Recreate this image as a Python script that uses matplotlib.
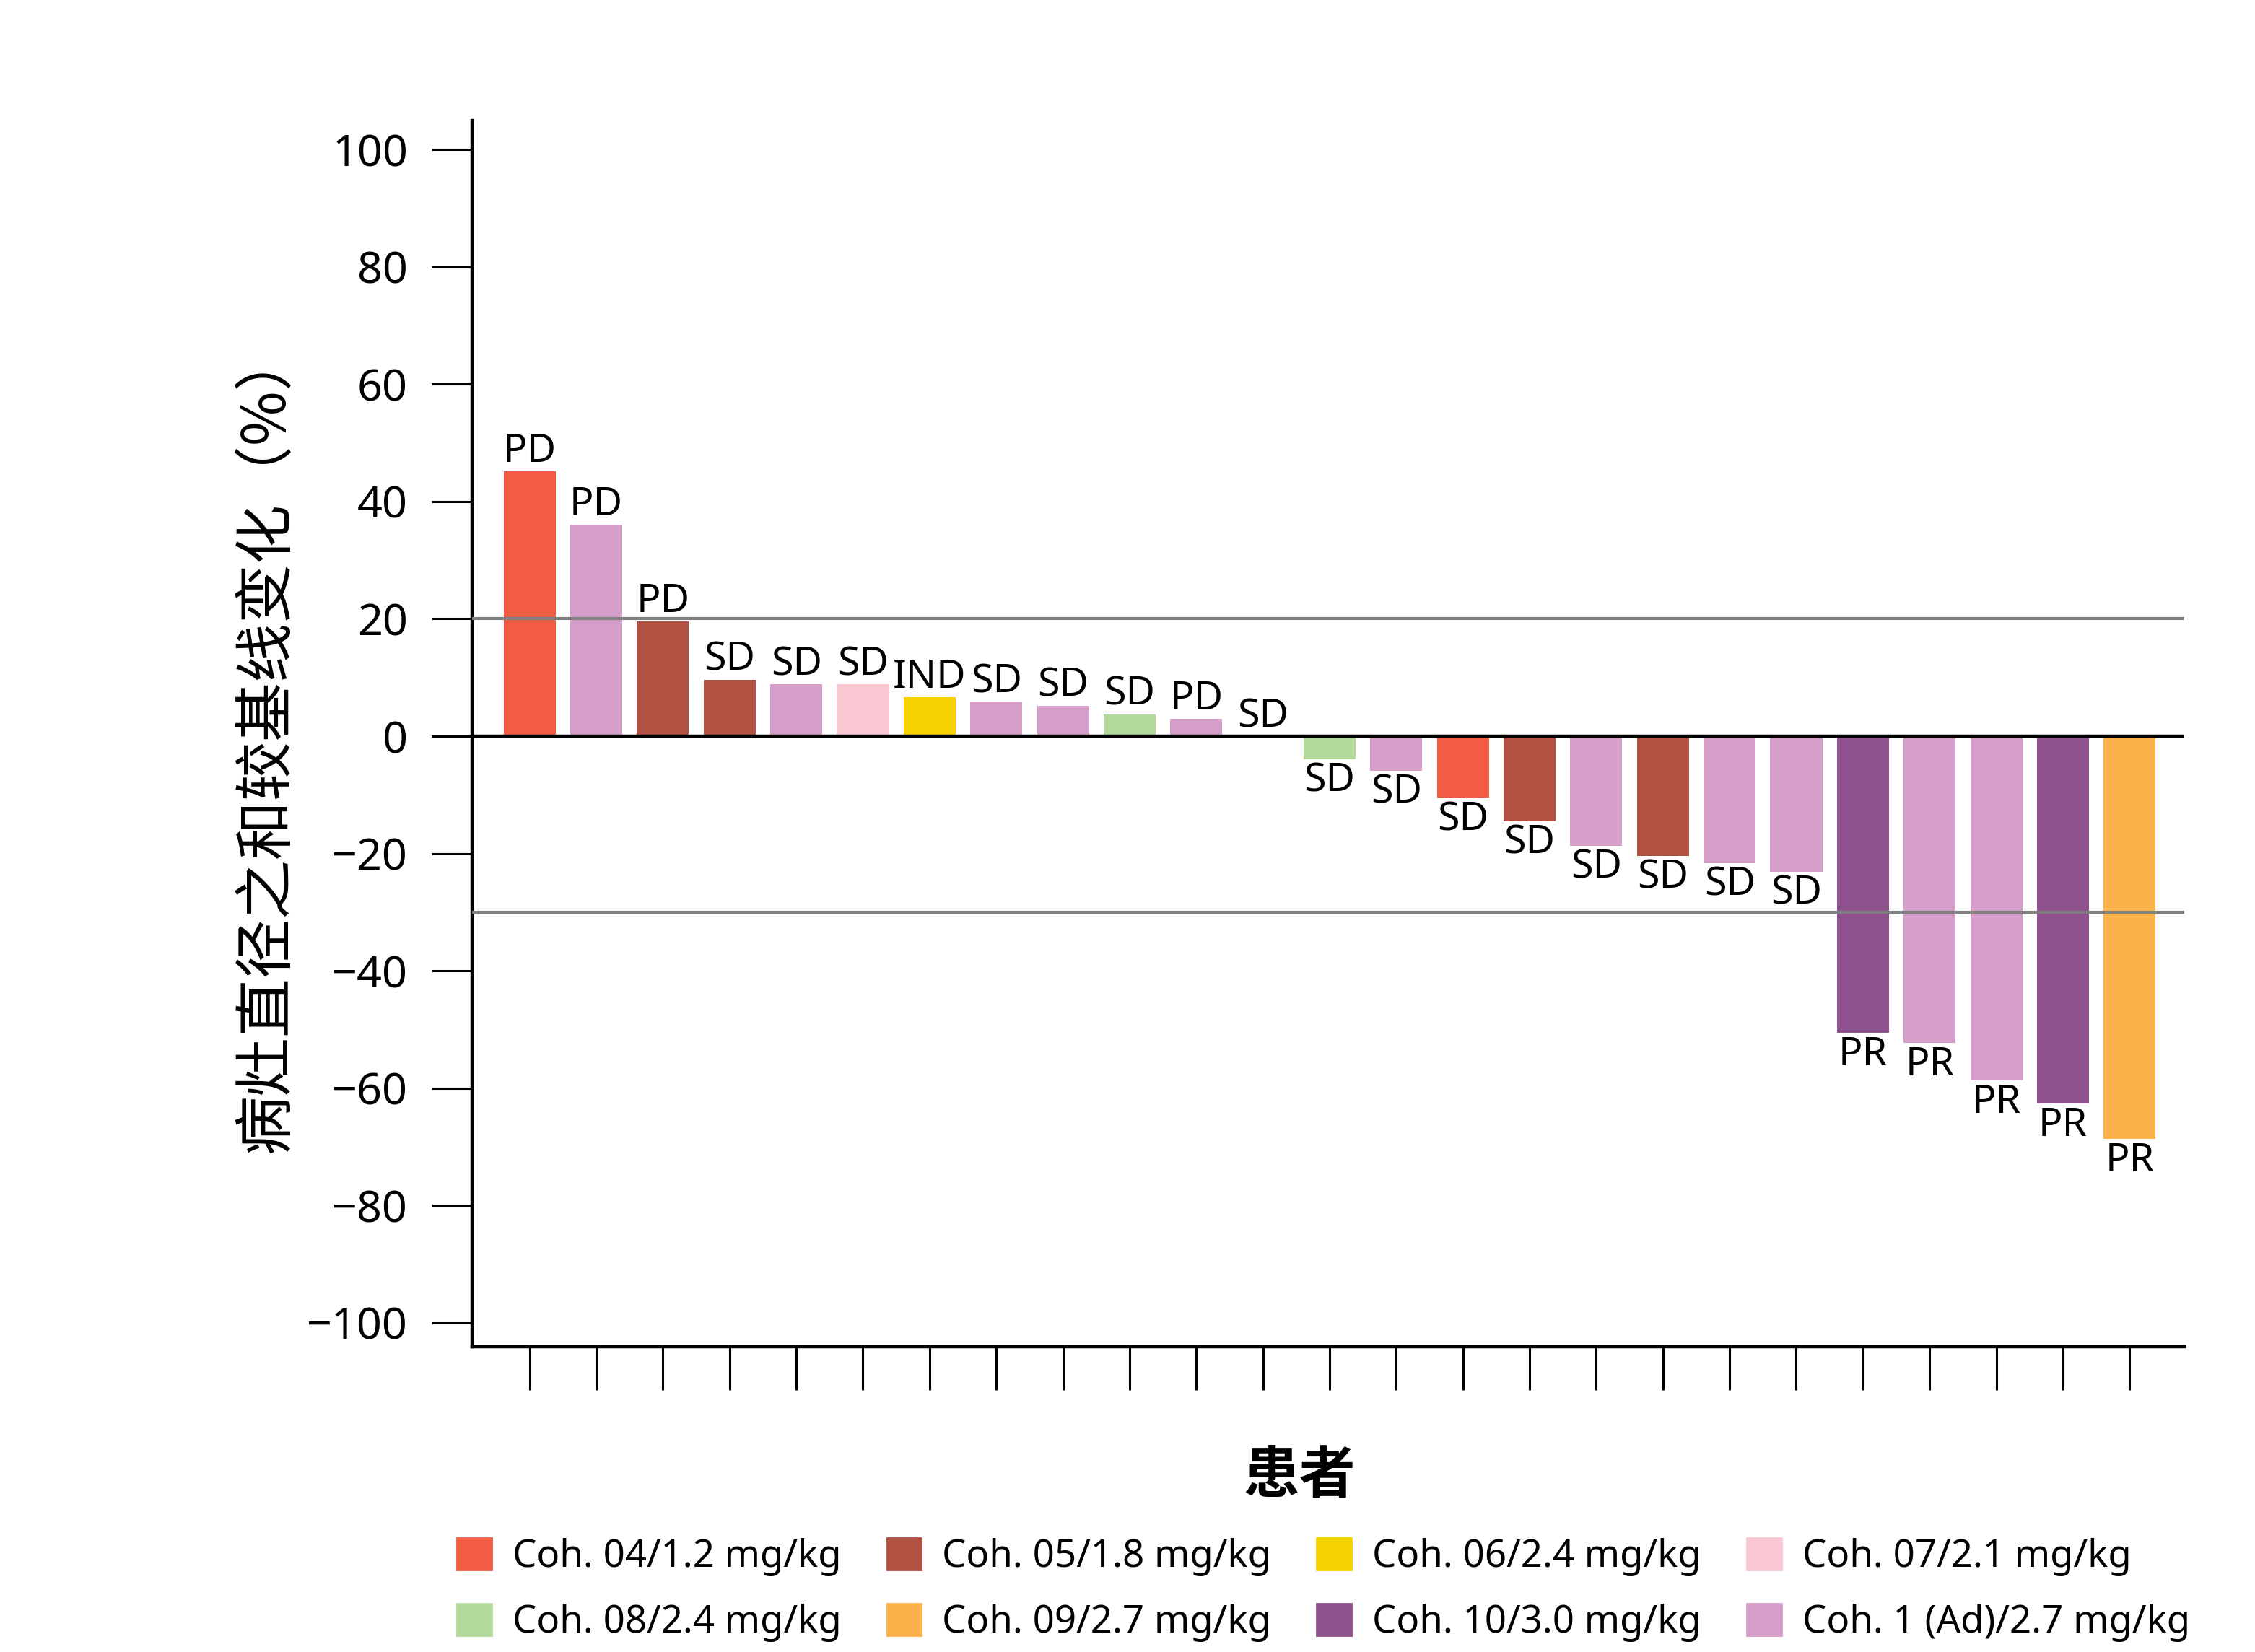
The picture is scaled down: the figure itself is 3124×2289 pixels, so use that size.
import matplotlib
matplotlib.use("Agg")
import matplotlib.pyplot as plt
from matplotlib.patches import Patch

plt.rcParams['font.family'] = ['Noto Sans', 'Noto Sans CJK SC', 'DejaVu Sans']

# cohort colours
cohorts = ["Coh. 04/1.2 mg/kg", "Coh. 05/1.8 mg/kg", "Coh. 06/2.4 mg/kg", "Coh. 07/2.1 mg/kg",
           "Coh. 08/2.4 mg/kg", "Coh. 09/2.7 mg/kg", "Coh. 10/3.0 mg/kg", "Coh. 1 (Ad)/2.7 mg/kg"]
cohort_colors = ["#F15C43", "#B05142", "#F5D100", "#F9C8D3",
                 "#B2D89C", "#FBB24B", "#8F528F", "#D59EC8"]

# per patient data (index into cohorts)
changes = [45.1, 36.0, 19.6, 9.6, 8.8, 8.8, 6.6, 5.9, 5.2, 3.7, 2.9, 0.0,
           -3.9, -5.9, -10.6, -14.5, -18.7, -20.4, -21.6, -23.1,
           -50.6, -52.3, -58.7, -62.6, -68.7]
patient_cohort = [0, 7, 1, 1, 7, 3, 2, 7, 7, 4, 7, 7,
                  4, 7, 0, 1, 7, 1, 7, 7,
                  6, 7, 7, 6, 5]
responses = ["PD", "PD", "PD", "SD", "SD", "SD", "IND", "SD", "SD", "SD", "PD", "SD",
             "SD", "SD", "SD", "SD", "SD", "SD", "SD", "SD",
             "PR", "PR", "PR", "PR", "PR"]

W, H = 3124, 2289
fig = plt.figure(figsize=(W / 200, H / 200), dpi=200)
ax = fig.add_axes([654 / W, 1 - 1866 / H, (3026 - 654) / W, (1866 - 167.5) / H])

x = list(range(len(changes)))
colors = [cohort_colors[c] for c in patient_cohort]
ax.bar(x, changes, width=0.78, color=colors, zorder=2)

for xi, val, lab in zip(x, changes, responses):
    if val >= 0:
        ax.annotate(lab, (xi, val), xytext=(0, 0), textcoords="offset points",
                    ha="center", va="bottom", fontsize=20)
    else:
        ax.annotate(lab, (xi, val), xytext=(0, -1), textcoords="offset points",
                    ha="center", va="top", fontsize=20)

ax.axhline(0, color="black", lw=1.6, zorder=3)
ax.axhline(20, color="#808080", lw=1.5, zorder=3)
ax.axhline(-30, color="#808080", lw=1.5, zorder=3)

ax.set_xlim(-0.863, 24.82)
ax.set_ylim(-104.1, 104.9)
ax.set_yticks(range(-100, 101, 20))
ax.set_xticks(x)
ax.set_xticklabels([])
ax.tick_params(axis="y", direction="out", length=20, width=1.1, pad=12, labelsize=22)
ax.tick_params(axis="x", direction="out", length=21.5, width=1.1)
for s in ["top", "right"]:
    ax.spines[s].set_visible(False)
for s in ["left", "bottom"]:
    ax.spines[s].set_linewidth(1.6)

fig.text(370 / W, 1 - 1027 / H, "病灶直径之和较基线变化（%）", rotation=90,
         fontsize=29.5, ha="center", va="center", family=["Noto Sans CJK SC"])
fig.text(1800 / W, 1 - 2045 / H, "患者", fontsize=28, fontweight="bold",
         ha="center", va="center", family=["Noto Sans CJK SC"])

# legend filled row by row
order = [0, 4, 1, 5, 2, 6, 3, 7]
handles = [Patch(color=cohort_colors[i], label=cohorts[i]) for i in order]
fig.legend(handles=handles, loc="center left", bbox_to_anchor=(633 / W, 1 - 2203 / H),
           ncol=4, frameon=False, fontsize=19, handlelength=0.9, handleheight=0.9,
           handletextpad=0.55, columnspacing=1.2, labelspacing=0.71, borderpad=0,
           borderaxespad=0)

fig.savefig("out.png", dpi=200)
